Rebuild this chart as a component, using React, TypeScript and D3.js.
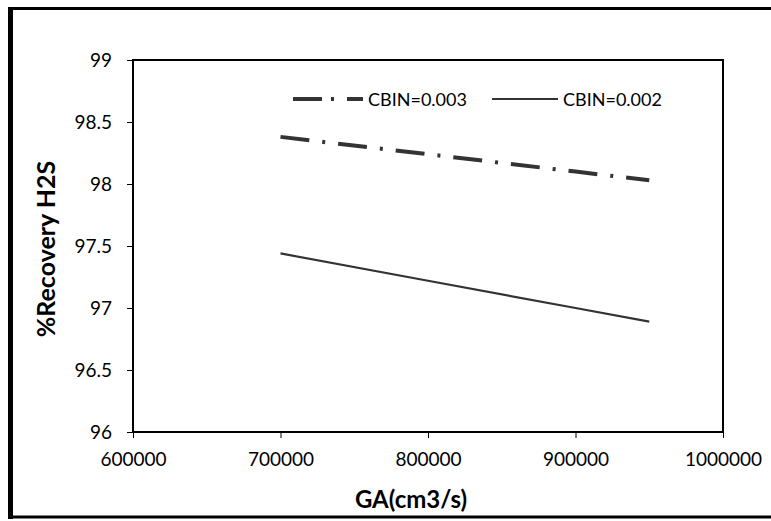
import React, { useEffect, useRef } from "react";
import * as d3 from "d3";

// values
const gaValues = [700000, 800000, 900000, 950000];
const cbin003 = [98.38, 98.24, 98.1, 98.03];
const cbin002 = [97.44, 97.22, 97.0, 96.89];
const xTicks = [600000, 700000, 800000, 900000, 1000000];
const yTicks = [96, 96.5, 97, 97.5, 98, 98.5, 99];
const seriesNames = ["CBIN=0.003", "CBIN=0.002"];

const W = 771;
const H = 521;
const FONT = "Lato, 'Open Sans', sans-serif";

const App = () => {
  const svgRef = useRef<SVGSVGElement>(null);

  useEffect(() => {
    const svg = d3.select(svgRef.current);
    svg.selectAll("*").remove();

    const left = 133, right = 723, top = 60, bottom = 432;

    const x = d3.scaleLinear().domain([600000, 1000000]).range([left, right]);
    const y = d3.scaleLinear().domain([96, 99]).range([bottom, top]);

    // outer frame (only the visible edges)
    svg.append("line").attr("x1", 8).attr("x2", W).attr("y1", 8.5).attr("y2", 8.5)
      .attr("stroke", "#000").attr("stroke-width", 3);
    svg.append("line").attr("x1", 10.5).attr("x2", 10.5).attr("y1", 7).attr("y2", 519)
      .attr("stroke", "#000").attr("stroke-width", 5);
    svg.append("line").attr("x1", 8).attr("x2", W).attr("y1", 517).attr("y2", 517)
      .attr("stroke", "#000").attr("stroke-width", 3);

    // axes
    const xAxis = svg.append("g").attr("transform", `translate(0,${bottom})`)
      .call(d3.axisBottom(x).tickValues(xTicks).tickSize(6).tickFormat(d3.format("d")));
    xAxis.select(".domain").remove();
    xAxis.selectAll("line").attr("stroke", "#000");
    xAxis.selectAll("text").attr("font-family", FONT).attr("font-size", 19)
      .attr("fill", "#000").attr("dy", "0.71em").attr("y", 21);

    const yAxis = svg.append("g").attr("transform", `translate(${left},0)`)
      .call(d3.axisLeft(y).tickValues(yTicks).tickSize(6).tickFormat(d => String(d)));
    yAxis.select(".domain").remove();
    yAxis.selectAll("line").attr("stroke", "#000");
    yAxis.selectAll("text").attr("font-family", FONT).attr("font-size", 19)
      .attr("fill", "#000").attr("x", -21);

    // plot box
    svg.append("rect").attr("x", left).attr("y", top)
      .attr("width", right - left).attr("height", bottom - top)
      .attr("fill", "none").attr("stroke", "#000").attr("stroke-width", 2);

    const line = d3.line<number>().x((d, i) => x(gaValues[i])).y(d => y(d));

    svg.append("path").datum(cbin003).attr("d", line)
      .attr("fill", "none").attr("stroke", "#333").attr("stroke-width", 4)
      .attr("stroke-dasharray", "29 13 3 13");

    svg.append("path").datum(cbin002).attr("d", line)
      .attr("fill", "none").attr("stroke", "#333").attr("stroke-width", 2.2);

    // legend
    const lg = svg.append("g").attr("font-family", FONT).attr("font-size", 18);
    lg.append("line").attr("x1", 293).attr("x2", 363).attr("y1", 99).attr("y2", 99)
      .attr("stroke", "#333").attr("stroke-width", 4).attr("stroke-dasharray", "29 9 3 13");
    lg.append("text").attr("x", 368).attr("y", 105.5).text(seriesNames[0]);
    lg.append("line").attr("x1", 492).attr("x2", 558).attr("y1", 99).attr("y2", 99)
      .attr("stroke", "#333").attr("stroke-width", 2.2);
    lg.append("text").attr("x", 563).attr("y", 105.5).text(seriesNames[1]);

    // titles
    svg.append("text").attr("x", 411).attr("y", 508).attr("text-anchor", "middle")
      .attr("font-family", FONT).attr("font-size", 24).attr("font-weight", "bold")
      .text("GA(cm3/s)");
    svg.append("text").attr("transform", "translate(55,249) rotate(-90)")
      .attr("text-anchor", "middle")
      .attr("font-family", FONT).attr("font-size", 25).attr("font-weight", "bold")
      .text("%Recovery H2S");
  }, []);

  return (
    <svg ref={svgRef} width={W} height={H}
      style={{ position: "absolute", left: 0, top: 0, background: "#fff" }} />
  );
};

export default App;
